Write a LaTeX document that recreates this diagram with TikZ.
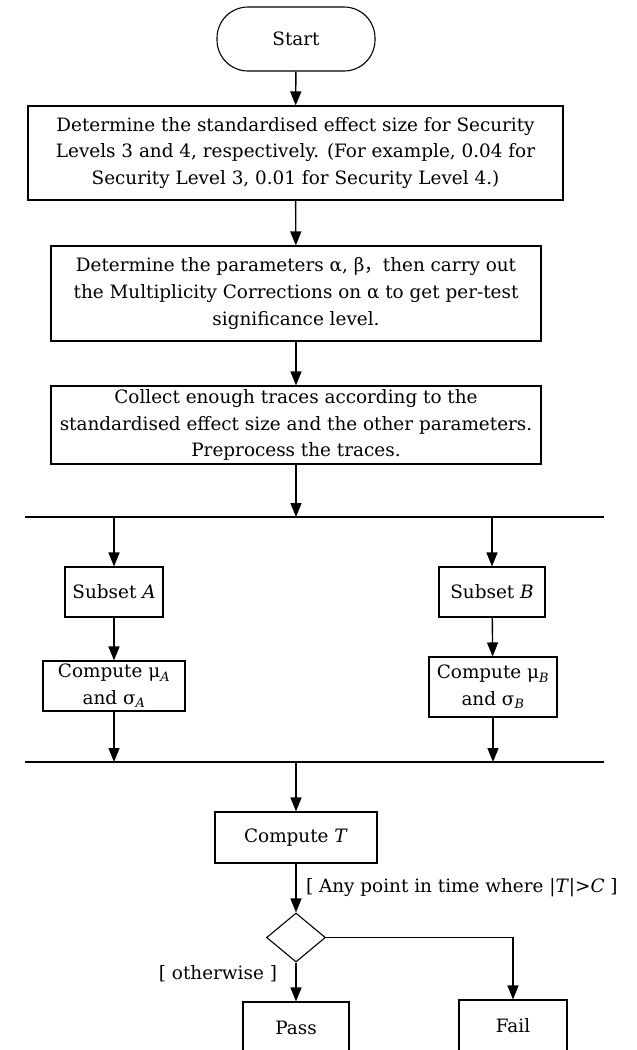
\documentclass[tikz,border=0pt]{standalone}
\usepackage{fontspec}
\setmainfont{DejaVu Serif}
\newfontfamily\cjk{Noto Sans CJK SC}
\usetikzlibrary{shapes.geometric,arrows.meta}
\newcommand{\procbox}[6]{\node[draw,line width=1.1pt,align=center,inner sep=0pt,minimum width=#4pt,minimum height=#5pt] (#1) at (#2,#3) {#6};}
\newcommand{\flowto}[2]{\draw[line width=1.4pt,-{Triangle[width=11pt,length=14pt]}] (#1) -- (#2);}
\newcommand{\railline}[2]{\draw[line width=1.4pt] (#1) -- (#2);}

\begin{document}
\begin{tikzpicture}[x=1pt,y=-1pt,font=\fontsize{18.4}{26.7}\selectfont]
    \path[use as bounding box] (0,0) rectangle (637,1050); \clip (0,0) rectangle (637,1050);
    \node[draw,line width=1.1pt,rounded corners=31pt,minimum width=158pt,minimum height=64pt] (start) at (296,39) {Start};
    \procbox{effect}{295.5}{153}{535}{94}{Determine the standardised effect size for Security\\Levels 3 and 4, respectively. (For example, 0.04 for\\Security Level 3, 0.01 for Security Level 4.)}
    \procbox{params}{296}{293.5}{490}{95}{Determine the parameters α, β{\cjk ，}then carry out\\the Multiplicity Corrections on α to get per-test\\significance level.}
    \procbox{traces}{296}{425}{490}{78}{Collect enough traces according to the\\standardised effect size and the other parameters.\\Preprocess the traces.}
    \coordinate (splitL) at (25,517); \coordinate (splitR) at (604,517);
    \coordinate (splitC) at (296,517); \coordinate (splitA) at (114,517); \coordinate (splitB) at (492,517);
    \procbox{subA}{114}{592}{98}{50}{Subset \textit{A}}
    \procbox{subB}{492}{592}{106}{50}{Subset \textit{B}}
    \procbox{statA}{114}{686}{142}{50}{Compute μ\textsubscript{\textit{A}}\\and σ\textsubscript{\textit{A}}}
    \procbox{statB}{493}{687}{128}{60}{Compute μ\textsubscript{\textit{B}}\\and σ\textsubscript{\textit{B}}}
    \coordinate (joinL) at (25,762); \coordinate (joinR) at (604,762);
    \coordinate (joinC) at (296,762); \coordinate (joinA) at (114,762); \coordinate (joinB) at (493,762);
    \procbox{compT}{296}{837.5}{162}{51}{Compute \textit{T}}
    \node[draw,diamond,line width=1.1pt,inner sep=0pt,minimum width=59pt,minimum height=49pt] (dec) at (296,937.5) {};
    \procbox{pass}{296}{1028}{106}{52}{Pass}
    \procbox{fail}{513}{1026}{108}{52}{Fail}
    \flowto{start}{effect}\flowto{effect}{params}\flowto{params}{traces}
    \flowto{traces}{splitC}\railline{splitL}{splitR}
    \flowto{splitA}{subA}\flowto{splitB}{subB}
    \flowto{subA}{statA}\flowto{subB}{statB}
    \flowto{statA}{joinA}\flowto{statB}{joinB}
    \railline{joinL}{joinR}\flowto{joinC}{compT}
    \draw[line width=1.4pt,-{Triangle[width=11pt,length=14pt]}] (compT) -- (dec) node[midway,right=6pt] {[ Any point in time where |\textit{T}|>\textit{C} ]};
    \draw[line width=1.4pt,-{Triangle[width=11pt,length=14pt]}] (dec) -- (pass) node[pos=0.28,left=15pt] {[ otherwise ]};
    \draw[line width=1.4pt,-{Triangle[width=11pt,length=14pt]}] (dec.east) -| (fail.north);
\end{tikzpicture}
\end{document}
